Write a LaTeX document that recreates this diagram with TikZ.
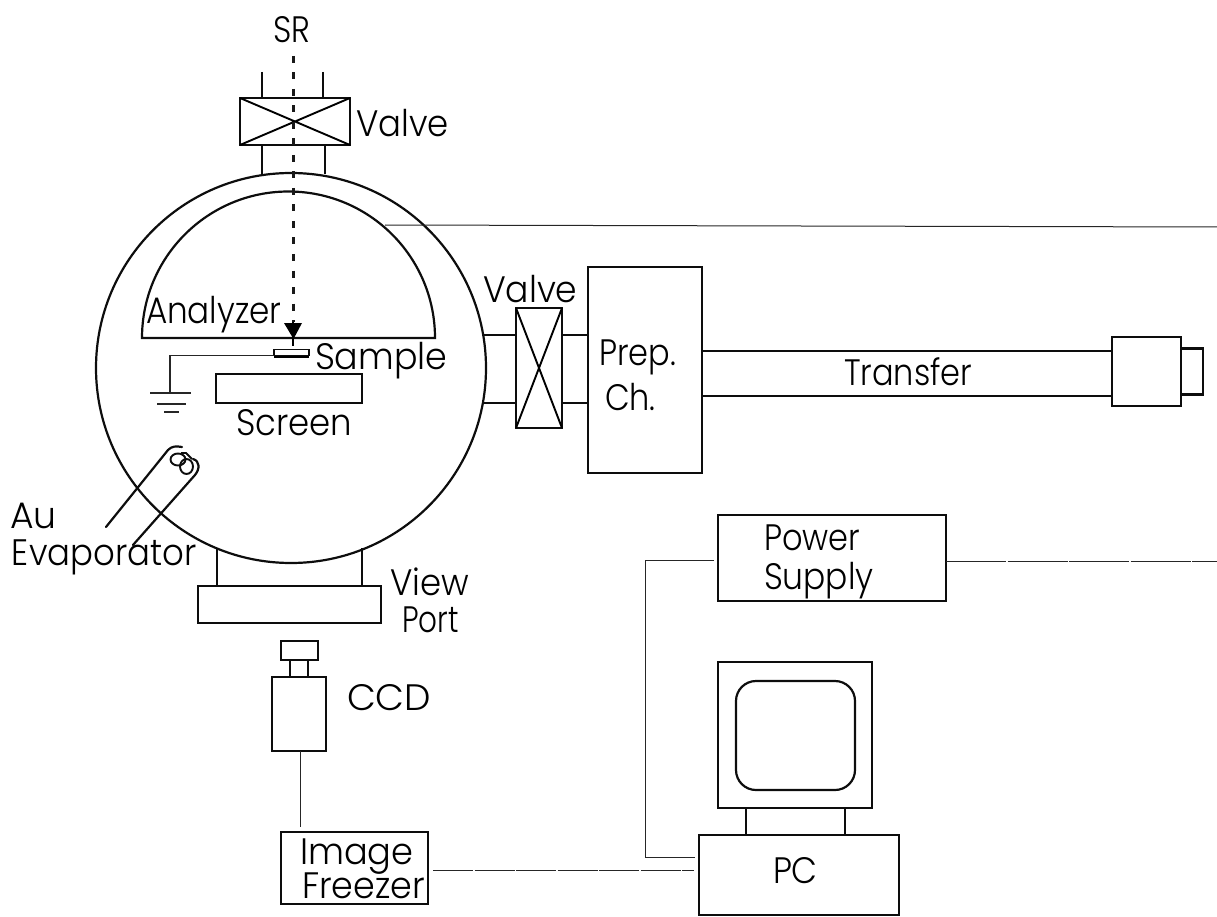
\documentclass[tikz,border=0pt]{standalone}
\usepackage{fontspec}
\setmainfont{Poppins}[UprightFont=* Light]
\newcommand{\T}[2]{\scalebox{#1}[1.15]{#2}}
\tikzset{
  ln/.style={line width=2.2pt,black!95},
  box/.style={draw,ln,inner sep=0pt,outer sep=0pt},
  wire/.style={line width=1pt,black!85},
  lbl/.style={inner sep=0pt,outer sep=0pt,anchor=base west,text=black,font=\fontsize{32}{34}\selectfont},
}
\begin{document}
\begin{tikzpicture}[x=1pt,y=-1pt]
\useasboundingbox (0,0) rectangle (1217,917);
% chamber
\node[box,circle,minimum size=390pt] (chamber) at (291,368) {};
% analyzer
\draw[ln] (142,338) arc[start angle=180,end angle=360,radius=146.5] -- cycle;
\coordinate (anaWire) at (385,225);
\coordinate (edgeTop) at (1217,227);
\draw[wire] (anaWire) -- (edgeTop);
% top valve
\node[box,minimum width=110pt,minimum height=47pt] (valveA) at (295,121.5) {};
\draw[line width=1.9pt] (valveA.north west) -- (valveA.south east) (valveA.north east) -- (valveA.south west);
\coordinate (pa1) at (262,72);
\coordinate (pa2) at (323,72);
\draw[ln] (pa1) -- (pa1 |- valveA.north) (pa2) -- (pa2 |- valveA.north);
\coordinate (pb1) at (262,174.5);
\coordinate (pb2) at (325,174.5);
\draw[ln] (pb1 |- valveA.south) -- (pb1) (pb2 |- valveA.south) -- (pb2);
% SR beam
\coordinate (srTop) at (293,56);
\coordinate (srHead) at (293,322);
\coordinate (srTip) at (293,346);
\draw[line width=3pt,black!90,dash pattern=on 7pt off 9.5pt] (srTop) -- (srHead);
\draw[line width=1.5pt] (srHead) -- (srTip);
\fill[black] (284,323) -- (302,323) -- (293.5,339) -- cycle;
% sample
\node[box,minimum width=35pt,minimum height=6pt,line width=1.9pt] (sample) at (291.5,352.5) {};
\draw[line width=1.6pt] (274,357) -- (309,357);
\coordinate (gnd) at (170,393);
\draw[wire,line width=1.2pt] (sample.south west) -- (gnd |- sample.south west) -- (gnd);
\draw[line width=1.2pt,black!85] (150,393) -- (191,393) (157,404) -- (186,404) (164,412) -- (179,412);
% screen
\node[box,minimum width=146pt,minimum height=29pt] (screen) at (289,388.5) {};
% evaporator
\draw[ln,line cap=round,line join=round] (106,527) -- (168,450) .. controls (172,446) and (176,446) .. (182,447);
\draw[ln,line cap=round,line join=round] (133,545) -- (195,475) .. controls (200,469) and (200,461) .. (193,459);
\draw[ln,line width=1.9pt] (178,459.5) ellipse[x radius=7.5,y radius=6];
\draw[ln,line width=1.9pt] (186.5,466.5) ellipse[x radius=6.5,y radius=7.5];
\draw[ln,line width=1.9pt] (181,453) -- (186,453) -- (192,459);
% viewport
\node[box,minimum width=183pt,minimum height=37pt] (view) at (289.5,604.5) {};
\coordinate (vp1) at (217,548);
\coordinate (vp2) at (362,548);
\draw[ln] (vp1) -- (vp1 |- view.north) (vp2) -- (vp2 |- view.north);
% CCD
\node[box,minimum width=37pt,minimum height=19pt] (head) at (299.5,650.5) {};
\node[box,minimum width=18pt,minimum height=17pt] (neck) at (299,668.5) {};
\node[box,minimum width=54pt,minimum height=74pt] (ccd) at (299,714) {};
% image freezer
\node[box,minimum width=147pt,minimum height=72pt] (freezer) at (354.5,868) {};
\coordinate (frzTop) at (300,827);
\draw[wire] (ccd.south -| frzTop) -- (frzTop);
% side valve and prep chamber
\node[box,minimum width=46pt,minimum height=120pt] (valveB) at (539,368) {};
\draw[line width=1.9pt] (valveB.north west) -- (valveB.south east) (valveB.north east) -- (valveB.south west);
\node[box,minimum width=114pt,minimum height=206pt] (prep) at (645,370) {};
\coordinate (u) at (483,335);
\coordinate (d) at (483,403);
\draw[ln] (u) -- (valveB.west |- u) (d) -- (valveB.west |- d);
\draw[ln] (valveB.east |- u) -- (prep.west |- u) (valveB.east |- d) -- (prep.west |- d);
% transfer
\node[box,minimum width=69pt,minimum height=69pt] (load) at (1146.5,371.5) {};
\node[box,minimum width=22pt,minimum height=46pt,anchor=west] (stub) at (load.east) {};
\coordinate (t1) at (0,351);
\coordinate (t2) at (0,396);
\draw[ln] (prep.east |- t1) -- (load.west |- t1) (prep.east |- t2) -- (load.west |- t2);
% power supply
\node[box,minimum width=228pt,minimum height=86pt] (power) at (832,558) {};
\coordinate (wireR) at (1217,561);
\coordinate (wireL) at (645,560);
% PC and monitor
\node[box,minimum width=154pt,minimum height=146pt] (monitor) at (795,735) {};
\node[box,minimum width=200pt,minimum height=80pt] (pc) at (799,875) {};
\node[box,rounded corners=20pt,minimum width=119pt,minimum height=109pt] (crt) at (795.5,735.5) {};
\coordinate (nk1) at (746,0);
\coordinate (nk2) at (845,0);
\draw[ln] (monitor.south -| nk1) -- (pc.north -| nk1) (monitor.south -| nk2) -- (pc.north -| nk2);
\coordinate (pcIn) at (0,857);
\coordinate (pcFrz) at (0,870);
\draw[wire,shorten <=4pt] (power.west |- wireL) -- (wireL) -- (wireL |- pcIn) -- ([xshift=-4pt]pc.west |- pcIn);
\draw[wire,dash pattern=on 60pt off 1.5pt] (power.east |- wireR) -- (wireR);
\draw[wire,dash pattern=on 40pt off 1.5pt,shorten <=5pt,shorten >=5pt] (freezer.east |- pcFrz) -- (pc.west |- pcFrz);
% labels
\node[lbl] (tSR) at (273,43) {\T{1}{SR}};
\node[lbl] (tV1) at (356,137) {\T{1.06}{Valve}};
\node[lbl] (tAn) at (146,323) {\T{1.02}{Analyzer}};
\node[lbl] (tSa) at (315,369) {\T{1.09}{Sample}};
\node[lbl] (tSc) at (236,435) {\T{1.06}{Screen}};
\node[lbl] (tAu) at (10,528) {\T{1.13}{Au}};
\node[lbl] (tEv) at (12,565) {\T{1.06}{Evaporator}};
\node[lbl] (tVw) at (390,595) {\T{1.06}{View}};
\node[lbl] (tPo) at (402,632) {\T{0.92}{Port}};
\node[lbl] (tCC) at (347,710) {\T{1.17}{CCD}};
\node[lbl] (tIm) at (300,864) {\T{1.1}{Image}};
\node[lbl] (tFr) at (302,898) {\T{1.09}{Freezer}};
\node[lbl] (tV2) at (483,302) {\T{1.08}{Valve}};
\node[lbl] (tPr) at (599,365) {\T{1}{Prep.}};
\node[lbl] (tCh) at (605,410) {\T{1}{Ch.}};
\node[lbl] (tTr) at (844,385) {\T{1}{Transfer}};
\node[lbl] (tPw) at (764,550) {\T{1}{Power}};
\node[lbl] (tSu) at (764,589) {\T{1.03}{Supply}};
\node[lbl] (tPC) at (773,883) {\T{1.05}{PC}};
\end{tikzpicture}
\end{document}
